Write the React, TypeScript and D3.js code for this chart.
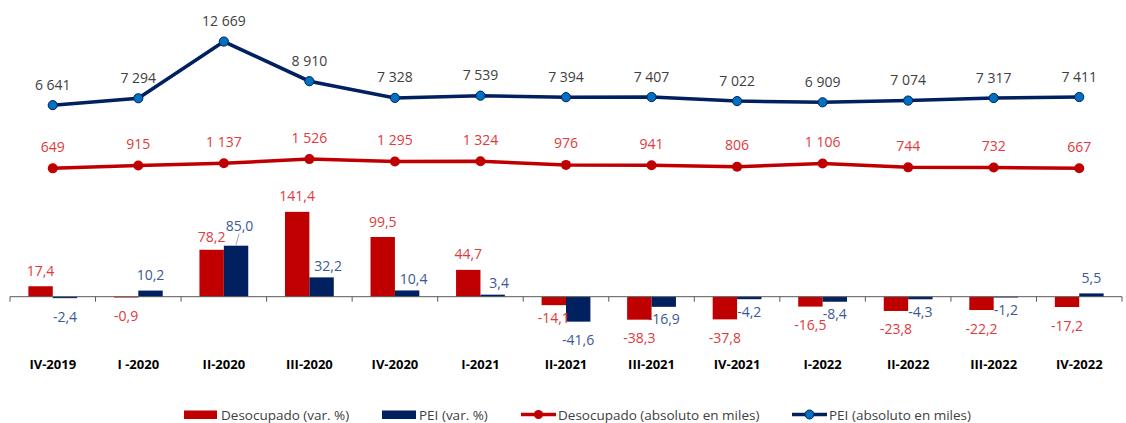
import React from "react";
import * as d3 from "d3";

const categories = ["IV-2019", "I -2020", "II-2020", "III-2020", "IV-2020", "I-2021", "II-2021", "III-2021", "IV-2021", "I-2022", "II-2022", "III-2022", "IV-2022"];
const desocVar = [17.4, -0.9, 78.2, 141.4, 99.5, 44.7, -14.1, -38.3, -37.8, -16.5, -23.8, -22.2, -17.2];
const peiVar = [-2.4, 10.2, 85.0, 32.2, 10.4, 3.4, -41.6, -16.9, -4.2, -8.4, -4.3, -1.2, 5.5];
const desocAbs = [649, 915, 1137, 1526, 1295, 1324, 976, 941, 806, 1106, 744, 732, 667];
const peiAbs = [6641, 7294, 12669, 8910, 7328, 7539, 7394, 7407, 7022, 6909, 7074, 7317, 7411];
const legendLabels = ["Desocupado (var. %)", "PEI (var. %)", "Desocupado (absoluto en miles)", "PEI (absoluto en miles)"];

const RED = "#C00000";
const BLUE = "#002060";
const MARKER_BLUE = "#0070C0";
const RED_TXT = "#E0393E";
const BLUE_TXT = "#3B5896";
const GRAY_TXT = "#404040";
const FONT = "'Open Sans', 'Noto Sans', sans-serif";

const loc = d3.formatLocale({ decimal: ",", thousands: " ", grouping: [3], currency: ["", ""], minus: "-" });
const fmtPct = loc.format(".1f");
const fmtAbs = loc.format(",d");

export default function App() {
  const W = 1126, H = 423;
  const x = d3.scaleBand<string>().domain(categories).range([10, 1122]).padding(0);
  const yBar = d3.scaleLinear().domain([-50, 150]).range([326.7, 206.7]);
  const yLine = d3.scaleLinear().domain([0, 14000]).range([175.2, 27.5]);
  const bw = x.bandwidth();
  const barW = 24.4;
  const cx = (c: string) => (x(c) as number) + bw / 2;
  const y0 = yBar(0);

  const peiLine = d3.line<number>().x((_, i) => cx(categories[i])).y((d) => yLine(d));
  const desLine = d3.line<number>().x((_, i) => cx(categories[i])).y((d) => yLine(d));

  const ticks = d3.range(categories.length + 1).map((i) => 10 + i * bw);

  return (
    <svg width={W} height={H} style={{ position: "absolute", left: 0, top: 0 }} fontFamily={FONT}>
      <rect x={0} y={0} width={W} height={H} fill="#fff" />
      {/* bars */}
      {categories.map((c, i) => {
        const xc = cx(c);
        const dv = desocVar[i], pv = peiVar[i];
        const rTop = Math.min(yBar(dv), y0), rH = Math.abs(yBar(dv) - y0);
        const bTop = Math.min(yBar(pv), y0), bH = Math.abs(yBar(pv) - y0);
        const bothPos = dv > 0 && pv > 0;
        const bothNeg = dv < 0 && pv < 0;
        const close = bothPos && Math.abs(yBar(dv) - yBar(pv)) < 12;
        const redTaller = bothPos && !close && dv > pv;
        let rLabY = dv >= 0 ? yBar(dv) - (close ? 13 : 16) : yBar(dv) + 18;
        let bLabY = pv >= 0 ? yBar(pv) - (close ? 20 : redTaller ? 12 : 16) : yBar(pv) + 18;
        if (bothNeg) {
          if (Math.abs(dv) < Math.abs(pv)) rLabY = yBar(dv) + 12;
          else bLabY = yBar(pv) + 12;
        }
        const bLabX = close ? xc + barW / 2 + 3.5 : redTaller ? xc + barW / 2 + 6.5 : xc + barW / 2;
        return (
          <g key={c}>
            <rect x={xc - barW} y={rTop} width={barW} height={Math.max(rH, 0.8)} fill={RED} />
            <rect x={xc} y={bTop} width={barW} height={Math.max(bH, 0.8)} fill={BLUE} />
            <text x={xc - barW / 2} y={rLabY} fill={RED_TXT} fontSize={14} textAnchor="middle" dominantBaseline="central">{fmtPct(dv)}</text>
            <text x={bLabX} y={bLabY} fill={BLUE_TXT} fontSize={14} textAnchor="middle" dominantBaseline="central">{fmtPct(pv)}</text>
            {close && (
              <line x1={xc + barW / 2} y1={yBar(pv) - 1} x2={bLabX - 0.5} y2={bLabY + 8} stroke="#A6A6A6" strokeWidth={1} />
            )}
          </g>
        );
      })}
      {/* axis */}
      <line x1={10} x2={1122} y1={y0} y2={y0} stroke="#595959" strokeWidth={1} />
      {ticks.map((t, i) => (
        <line key={i} x1={t} x2={t} y1={y0} y2={y0 + 5} stroke="#595959" strokeWidth={1} />
      ))}
      {categories.map((c) => (
        <text key={c} x={cx(c)} y={364} fontSize={13} fontWeight="bold" fill="#000" textAnchor="middle" dominantBaseline="central">{c}</text>
      ))}
      {/* lines */}
      <path d={desLine(desocAbs) as string} fill="none" stroke={RED} strokeWidth={3.5} />
      <path d={peiLine(peiAbs) as string} fill="none" stroke={BLUE} strokeWidth={3.5} />
      {desocAbs.map((v, i) => (
        <g key={"d" + i}>
          <circle cx={cx(categories[i])} cy={yLine(v)} r={5} fill={RED} />
          <text x={cx(categories[i])} y={yLine(v) - 22} fontSize={14} fill={RED_TXT} textAnchor="middle" dominantBaseline="central">{fmtAbs(v)}</text>
        </g>
      ))}
      {peiAbs.map((v, i) => (
        <g key={"p" + i}>
          <circle cx={cx(categories[i])} cy={yLine(v)} r={4.6} fill={MARKER_BLUE} stroke={BLUE} strokeWidth={1} />
          <text x={cx(categories[i])} y={yLine(v) - 21} fontSize={14} fill={GRAY_TXT} textAnchor="middle" dominantBaseline="central">{fmtAbs(v)}</text>
        </g>
      ))}
      {/* legend */}
      <g fontSize={13.5} fill={GRAY_TXT}>
        <rect x={184} y={410.5} width={33} height={8.5} fill={RED} />
        <text x={221} y={414.5} dominantBaseline="central">{legendLabels[0]}</text>
        <rect x={382} y={410.5} width={34} height={8.5} fill={BLUE} />
        <text x={419} y={414.5} dominantBaseline="central">{legendLabels[1]}</text>
        <line x1={521} x2={556} y1={414.5} y2={414.5} stroke={RED} strokeWidth={3.5} />
        <circle cx={538.5} cy={414.5} r={4.5} fill={RED} />
        <text x={558} y={414.5} dominantBaseline="central">{legendLabels[2]}</text>
        <line x1={792} x2={827} y1={414.5} y2={414.5} stroke={BLUE} strokeWidth={3.5} />
        <circle cx={809.5} cy={414.5} r={4.5} fill={MARKER_BLUE} stroke={BLUE} strokeWidth={1} />
        <text x={829} y={414.5} dominantBaseline="central">{legendLabels[3]}</text>
      </g>
    </svg>
  );
}
